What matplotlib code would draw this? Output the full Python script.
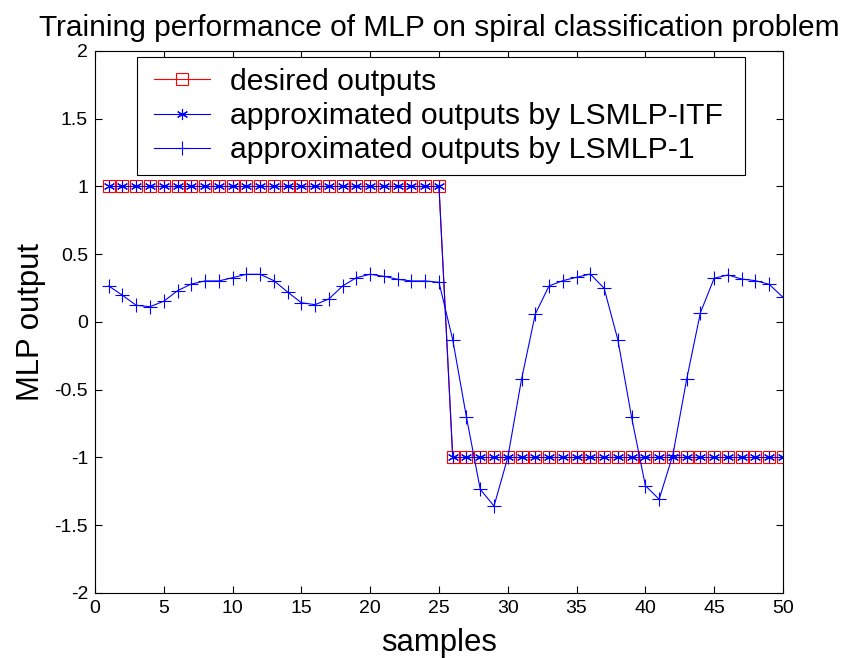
import matplotlib
matplotlib.use('Agg')
import matplotlib.pyplot as plt
from matplotlib.legend_handler import HandlerLine2D

plt.rcParams['font.family'] = ['Liberation Sans', 'DejaVu Sans']
plt.rcParams['axes.unicode_minus'] = False

# sample index 1..50
samples = list(range(1, 51))

# desired class outputs
desired = [1] * 25 + [-1] * 25

# LSMLP-ITF reproduces the targets
lsmlp_itf = [1] * 25 + [-1] * 25

# LSMLP-1 approximation
lsmlp_1 = [0.266, 0.197, 0.123, 0.113, 0.153, 0.231, 0.280, 0.303, 0.303, 0.327,
           0.352, 0.352, 0.305, 0.221, 0.142, 0.128, 0.170, 0.266, 0.327, 0.352,
           0.337, 0.315, 0.303, 0.303, 0.293, -0.131, -0.704, -1.235, -1.358, -1.000,
           -0.423, 0.059, 0.266, 0.305, 0.330, 0.354, 0.249, -0.131, -0.704, -1.208,
           -1.308, -0.980, -0.423, 0.069, 0.323, 0.347, 0.317, 0.305, 0.278, 0.182]

x_ticks = [0, 5, 10, 15, 20, 25, 30, 35, 40, 45, 50]
y_ticks = [-2, -1.5, -1, -0.5, 0, 0.5, 1, 1.5, 2]
y_tick_labels = ['-2', '-1.5', '-1', '-0.5', '0', '0.5', '1', '1.5', '2']

fig = plt.figure(figsize=(8.45, 6.58), dpi=100)
ax = fig.add_axes([0.1124, 0.0988, 0.8142, 0.8237])

l1, = ax.plot(samples, desired, color='red', linewidth=0.8, marker='s', markersize=8,
              markerfacecolor='none', markeredgecolor='red', markeredgewidth=0.8,
              label='desired outputs')
l2, = ax.plot(samples, lsmlp_itf, color='blue', linewidth=0.8, marker=(6, 2, 0), markersize=8,
              markeredgewidth=0.8, label='approximated outputs by LSMLP-ITF')
l3, = ax.plot(samples, lsmlp_1, color='blue', linewidth=0.8, marker='+', markersize=10,
              markeredgewidth=0.8, label='approximated outputs by LSMLP-1')

ax.set_xlim(0, 50)
ax.set_ylim(-2, 2)
ax.set_xticks(x_ticks)
ax.set_yticks(y_ticks)
ax.set_yticklabels(y_tick_labels)
ax.tick_params(direction='in', length=5, width=0.8, top=True, right=True,
               labelsize=14, pad=5)
for s in ax.spines.values():
    s.set_linewidth(0.8)

ax.set_title('Training performance of MLP on spiral classification problem',
             fontsize=21.5, pad=11)
ax.set_xlabel('samples', fontsize=22.4, labelpad=8)
ax.set_ylabel('MLP output', fontsize=22.4, labelpad=6)

# shift legend handles right a bit, like the original
hmap = {l: HandlerLine2D(xpad=0.22) for l in (l1, l2, l3)}
leg = ax.legend(loc='upper left', bbox_to_anchor=(0.061, 0.777, 0.884, 0.212),
                mode='expand', fontsize=21.7, handler_map=hmap,
                frameon=True, fancybox=False, framealpha=1, edgecolor='black',
                handlelength=2.05, handletextpad=0.67, labelspacing=0.21,
                borderpad=0.36, borderaxespad=0)
leg.get_frame().set_linewidth(0.8)

fig.savefig('out.png', dpi=100)
